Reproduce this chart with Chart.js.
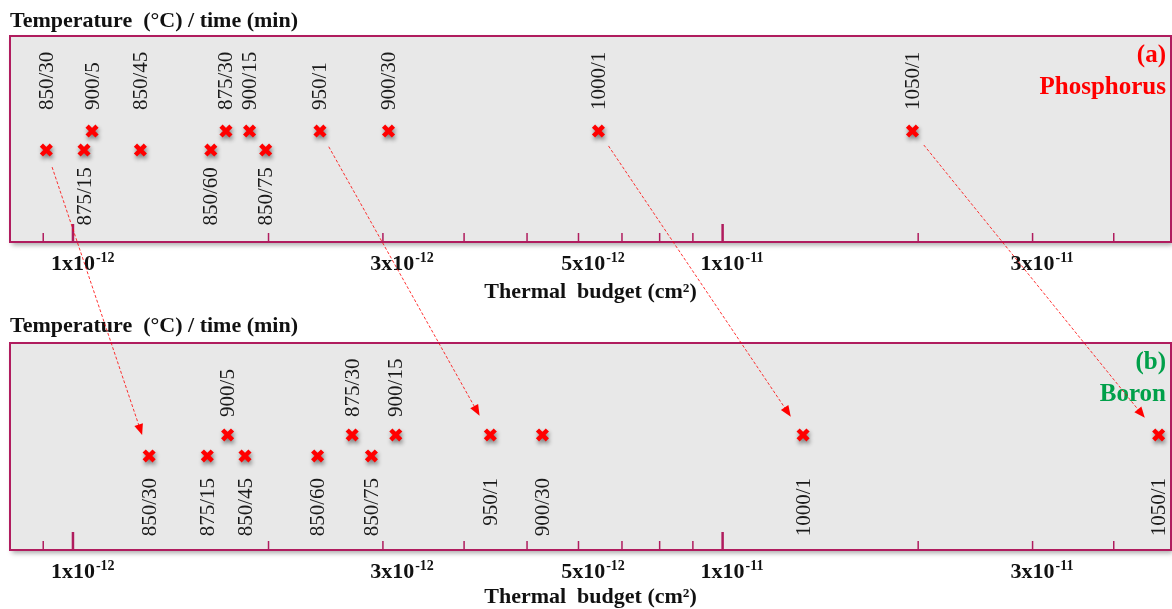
<!DOCTYPE html>
<html>
<head>
<meta charset="utf-8">
<script src="https://cdn.jsdelivr.net/npm/chart.js@4.4.1/dist/chart.umd.min.js"></script>
<style>
  html, body { margin: 0; padding: 0; background: #fff; overflow: hidden; }
  #wrap { position: relative; width: 1172px; height: 609px; }
  canvas { position: absolute; left: 0; }
  #chartA { top: 0; }
  #chartB { top: 305px; }
  #arrows { top: 0; pointer-events: none; }
</style>
</head>
<body>
<div id="wrap">
  <canvas id="chartA" width="1172" height="306"></canvas>
  <canvas id="chartB" width="1172" height="306"></canvas>
  <canvas id="arrows" width="1172" height="609"></canvas>
</div>
<script>
// anneal conditions, temperature (C) / time (min)
const conditions = ["850/30", "875/15", "900/5", "850/45", "850/60", "875/30",
  "900/15", "850/75", "950/1", "900/30", "1000/1", "1050/1"];

// thermal budget (cm2), same order as conditions
const phosBudget = [0.91e-12, 1.04e-12, 1.07e-12, 1.27e-12, 1.63e-12, 1.72e-12,
  1.87e-12, 1.98e-12, 2.40e-12, 3.06e-12, 6.44e-12, 1.96e-11];
const boronBudget = [1.31e-12, 1.61e-12, 1.73e-12, 1.84e-12, 2.38e-12, 2.69e-12,
  3.14e-12, 2.88e-12, 4.39e-12, 5.28e-12, 1.33e-11, 4.69e-11];

// 0 = lower row of markers, 1 = upper row
const markerRow = [0, 0, 1, 0, 0, 1, 1, 0, 1, 1, 1, 1];
const phosLabelSide = ["up", "down", "up", "up", "down", "up", "up", "down", "up", "up", "up", "up"];
const boronLabelSide = ["down", "down", "up", "down", "down", "up", "up", "down", "down", "down", "down", "down"];

// arrows from phosphorus (a) to boron (b)
const arrowConditions = ["850/30", "950/1", "1000/1", "1050/1"];

// axis
const tickValues = [9e-13, 1e-12, 2e-12, 3e-12, 4e-12, 5e-12, 6e-12, 7e-12, 8e-12,
  9e-12, 1e-11, 2e-11, 3e-11, 4e-11];
const tickLabelText = ["1x10", "3x10", "5x10", "1x10", "3x10"];
const tickLabelExp = ["-12", "-12", "-12", "-11", "-11"];
// where each label stands on the axis in the figure
const tickLabelAt = [1e-12, 3.1e-12, 6.1e-12, 1e-11, 3e-11];

const FRAME = "#b01c5e";
const SERIF = '"Liberation Serif", "Times New Roman", serif';

const panelPlugin = {
  id: "panel",
  beforeDatasetsDraw(chart) {
    const { ctx, chartArea: a } = chart;
    ctx.save();
    ctx.shadowColor = "rgba(0,0,0,0.35)";
    ctx.shadowBlur = 5;
    ctx.shadowOffsetX = 2;
    ctx.shadowOffsetY = 3;
    ctx.fillStyle = "#e8e8e8";
    ctx.fillRect(a.left, a.top, a.width, a.height);
    ctx.restore();
  },
  beforeDatasetDraw(chart) {
    const ctx = chart.ctx;
    ctx.save();
    ctx.shadowColor = "rgba(0,0,0,0.45)";
    ctx.shadowBlur = 4;
    ctx.shadowOffsetX = 1;
    ctx.shadowOffsetY = 3;
  },
  afterDatasetDraw(chart) {
    chart.ctx.restore();
  },
  afterDatasetsDraw(chart, args, opts) {
    const { ctx, chartArea: a, scales } = chart;
    const x = scales.x, y = scales.y;

    // frame
    ctx.save();
    ctx.strokeStyle = FRAME;
    ctx.lineWidth = 2;
    ctx.strokeRect(a.left, a.top, a.width, a.height);

    // inward tick marks
    x.ticks.forEach((t) => {
      const px = x.getPixelForValue(t.value);
      const lg = Math.log10(t.value);
      const major = Math.abs(lg - Math.round(lg)) < 1e-6;
      ctx.lineWidth = major ? 2.5 : 1.5;
      ctx.beginPath();
      ctx.moveTo(px, a.bottom);
      ctx.lineTo(px, a.bottom - (major ? 18 : 9));
      ctx.stroke();
    });

    // condition labels
    ctx.fillStyle = "#1a1a1a";
    ctx.font = "21px " + SERIF;
    ctx.textBaseline = "middle";
    chart.getDatasetMeta(0).data.forEach((el, i) => {
      const up = opts.sides[i] === "up";
      ctx.save();
      ctx.translate(el.x, y.getPixelForValue(up ? opts.upY : opts.downY));
      ctx.rotate(-Math.PI / 2);
      ctx.textAlign = up ? "left" : "right";
      ctx.fillText(conditions[i], 0, 1);
      ctx.restore();
    });

    // panel name
    ctx.fillStyle = opts.color;
    ctx.font = "bold 25px " + SERIF;
    ctx.textAlign = "right";
    ctx.textBaseline = "alphabetic";
    ctx.fillText(opts.tag, a.right - 5, a.top + 26);
    ctx.fillText(opts.name, a.right - 5, a.top + 58);

    // tick labels with superscript exponent
    ctx.fillStyle = "#111";
    tickLabelAt.forEach((v, i) => {
      const px = x.getPixelForValue(v);
      ctx.font = "bold 22px " + SERIF;
      const w = ctx.measureText(tickLabelText[i]).width;
      ctx.textAlign = "left";
      ctx.fillText(tickLabelText[i], px - w / 2, a.bottom + 28);
      ctx.font = "bold 14px " + SERIF;
      ctx.fillText(tickLabelExp[i], px + w / 2 + 1, a.bottom + 20);
    });
    ctx.restore();
  }
};

function makePanel(id, budget, sides, o) {
  return new Chart(document.getElementById(id), {
    type: "scatter",
    data: {
      datasets: [{
        data: budget.map((b, i) => ({ x: b, y: markerRow[i] })),
        pointStyle: "crossRot",
        pointRadius: 7,
        pointBorderWidth: 4.5,
        borderColor: "#ff0000",
        backgroundColor: "#ff0000"
      }]
    },
    options: {
      responsive: false,
      animation: false,
      events: [],
      layout: { autoPadding: false, padding: { left: 10, right: 1, top: 0, bottom: 0 } },
      plugins: {
        legend: { display: false },
        tooltip: { enabled: false },
        title: {
          display: true,
          text: "Temperature  (°C) / time (min)",
          align: "start",
          color: "#111",
          font: { family: SERIF, size: 22, weight: "bold" },
          padding: { top: o.titleTop, bottom: o.titleBottom }
        },
        panel: { sides, name: o.name, tag: o.tag, color: o.color, upY: o.upY, downY: o.downY }
      },
      scales: {
        x: {
          type: "logarithmic",
          min: 8e-13,
          max: 4.9e-11,
          bounds: "data",
          afterBuildTicks: (s) => { s.ticks = tickValues.map((v) => ({ value: v })); },
          grid: { display: false, drawTicks: false },
          border: { display: false },
          ticks: { display: false },
          title: {
            display: true,
            text: "Thermal  budget (cm²)",
            color: "#111",
            font: { family: SERIF, size: 22, weight: "bold" },
            padding: { top: o.axisTitleTop, bottom: 0 }
          }
        },
        y: { display: false, min: o.yMin, max: o.yMax }
      }
    },
    plugins: [panelPlugin]
  });
}

const chartA = makePanel("chartA", phosBudget, phosLabelSide, {
  name: "Phosphorus", tag: "(a)", color: "#ff0000",
  titleTop: 8.4, titleBottom: 1.2, axisTitleTop: 37.6,
  yMin: -4.84, yMax: 6.0, upY: 2.1, downY: -0.9
});
const chartB = makePanel("chartB", boronBudget, boronLabelSide, {
  name: "Boron", tag: "(b)", color: "#00a04a",
  titleTop: 8.4, titleBottom: 3.2, axisTitleTop: 34.6,
  yMin: -4.48, yMax: 5.38, upY: 1.86, downY: -1.05
});

function drawArrows() {
  const ctx = document.getElementById("arrows").getContext("2d");
  const offB = 305;
  const ptsA = chartA.getDatasetMeta(0).data;
  const ptsB = chartB.getDatasetMeta(0).data;
  ctx.strokeStyle = "rgba(255,0,0,0.8)";
  ctx.fillStyle = "#ff0000";
  ctx.lineWidth = 1;
  arrowConditions.forEach((name) => {
    const i = conditions.indexOf(name);
    const x1 = ptsA[i].x, y1 = ptsA[i].y;
    const x2 = ptsB[i].x, y2 = ptsB[i].y + offB;
    const len = Math.hypot(x2 - x1, y2 - y1);
    const ux = (x2 - x1) / len, uy = (y2 - y1) / len;
    const sx = x1 + ux * 18, sy = y1 + uy * 18;
    const ex = x2 - ux * 22, ey = y2 - uy * 22;
    ctx.setLineDash([3, 2]);
    ctx.beginPath();
    ctx.moveTo(sx, sy);
    ctx.lineTo(ex - ux * 8, ey - uy * 8);
    ctx.stroke();
    ctx.setLineDash([]);
    const bx = ex - ux * 11, by = ey - uy * 11;
    ctx.beginPath();
    ctx.moveTo(ex, ey);
    ctx.lineTo(bx - uy * 4.5, by + ux * 4.5);
    ctx.lineTo(bx + uy * 4.5, by - ux * 4.5);
    ctx.closePath();
    ctx.fill();
  });
}

drawArrows();
</script>
</body>
</html>
